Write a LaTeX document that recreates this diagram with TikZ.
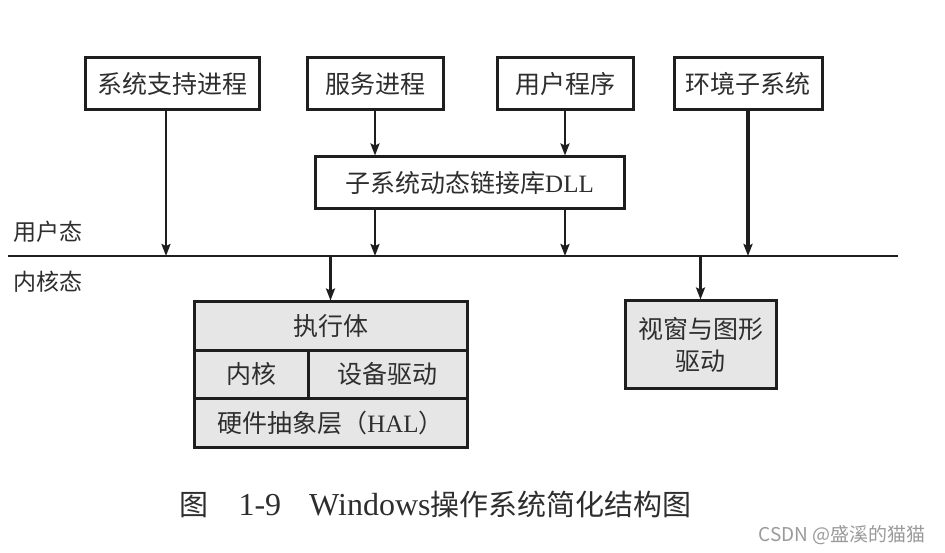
\documentclass[tikz,border=0pt]{standalone}
\usepackage{fontspec}
\setmainfont{Liberation Serif}
\newfontfamily\cjk{Noto Sans CJK SC}
\usepackage{tikz}
\usetikzlibrary{arrows.meta,positioning}
\definecolor{kfill}{HTML}{E6E6E6}
\definecolor{kdraw}{HTML}{1E1E1E}
\definecolor{ktext}{HTML}{2E2E2E}
\definecolor{wmgrey}{HTML}{9A9A9A}

\begin{document}
\begin{tikzpicture}[x=1pt,y=-1pt,>={Stealth[length=12pt,width=9pt,inset=2pt]},
    box/.style={draw=kdraw,line width=3pt,fill=white,inner sep=0pt,text=ktext,
      font=\cjk\fontsize{25}{32}\selectfont},
    kbox/.style={box,fill=kfill},
    link/.style={->,line width=2.2pt,draw=kdraw},
    lbl/.style={text=ktext,font=\cjk\fontsize{23}{28}\selectfont}]
    \useasboundingbox[fill=white] (0,0) rectangle (945,553);
    % user mode
    \node[box,minimum width=174pt,minimum height=52pt] (sysproc) at (172,84) {系统支持进程};
    \node[box,minimum width=136pt,minimum height=52pt] (service) at (375,84) {服务进程};
    \node[box,minimum width=136pt,minimum height=52pt] (userprog) at (565,84) {用户程序};
    \node[box,minimum width=148pt,minimum height=52pt] (envsub) at (748,84) {环境子系统};
    \node[box,minimum width=309pt,minimum height=52pt] (dll) at (469.5,183) {子系统动态链接库{\rmfamily DLL}};
    \coordinate (barL) at (8,256);
    \coordinate (barR) at (898,256);
    \draw[line width=2.8pt,kdraw] (barL) -- (barR);
    \node[lbl] (userlbl) at (48,232) {用户态};
    \node[lbl] (kernlbl) at (48,282) {内核态};
    % kernel mode
    \node[kbox,minimum width=273pt,minimum height=48pt] (exec) at (330.5,326) {执行体};
    \node[kbox,minimum width=114pt,minimum height=48pt] (kernel) at (251,374) {内核};
    \node[kbox,minimum width=159pt,minimum height=48pt] (devdrv) at (387.5,374) {设备驱动};
    \node[kbox,minimum width=273pt,minimum height=49pt] (hal) at (330.5,422.5) {硬件抽象层（{\rmfamily HAL}）};
    \node[kbox,minimum width=151pt,minimum height=87pt,align=center] (gfx) at (700.5,344.5) {视窗与图形\\驱动};
    % arrows
    \draw[link] ([xshift=-6pt]sysproc.south) -- ([xshift=-6pt]sysproc.south |- barL);
    \draw[link] (service) -- (service |- dll.north);
    \draw[link] (userprog) -- (userprog |- dll.north);
    \draw[link] (service |- dll.south) -- (service |- barL);
    \draw[link] (userprog |- dll.south) -- (userprog |- barL);
    \draw[link,line width=3.4pt] (envsub) -- (envsub |- barL);
    \draw[link] (exec.north |- barL) -- (exec);
    \draw[link] (gfx.north |- barL) -- (gfx);
    % caption
    \node[anchor=west,text=ktext,font=\fontsize{32}{36}\selectfont] (caption) at (176,504)
      {{\cjk\fontsize{29}{34}\selectfont 图}\hspace{30pt}1-9\hspace{28pt}Windows{\cjk\fontsize{29}{34}\selectfont 操作系统简化结构图}};
    \node[anchor=east,text=wmgrey,font=\cjk\fontsize{19}{22}\selectfont] (mark) at (929,535) {CSDN @盛溪的猫猫};
\end{tikzpicture}
\end{document}
